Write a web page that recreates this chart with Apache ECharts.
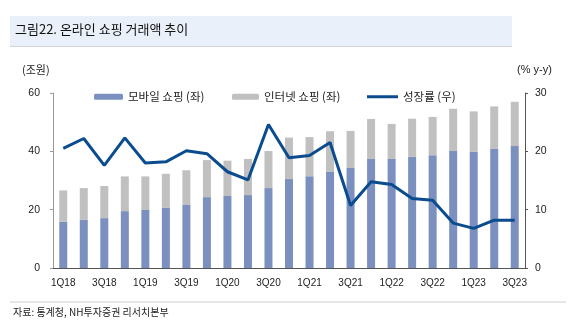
<!DOCTYPE html>
<html><head><meta charset="utf-8">
<script src="https://cdn.jsdelivr.net/npm/echarts@6/dist/echarts.min.js"></script>
<style>html,body{margin:0;padding:0;background:#fff}#c{width:577px;height:334px}</style>
</head><body><div id="c"></div>
<script>
const categories = ['1Q18','2Q18','3Q18','4Q18','1Q19','2Q19','3Q19','4Q19','1Q20','2Q20','3Q20','4Q20','1Q21','2Q21','3Q21','4Q21','1Q22','2Q22','3Q22','4Q22','1Q23','2Q23','3Q23'];
const mobile = [15.8,16.5,17.1,19.5,19.9,20.6,21.6,24.3,24.7,25.0,27.4,30.5,31.5,33.1,34.3,37.4,37.4,38.1,38.7,40.1,39.8,40.8,41.8];
const total = [26.6,27.4,28.1,31.4,31.4,32.3,33.5,37.0,36.8,37.4,40.1,44.7,44.9,46.9,47.0,51.1,49.4,51.2,51.8,54.6,53.7,55.4,57.0];
const internet = total.map((t,i)=>+(t-mobile[i]).toFixed(1));
const growth = [20.5,22.2,17.6,22.3,18.0,18.2,20.1,19.6,16.5,15.1,24.6,18.9,19.3,21.5,10.7,14.8,14.3,11.9,11.6,7.7,6.8,8.2,8.2];
const leftTicks = [0,20,40,60];
const rightTicks = [0,10,20,30];

const KR = '"Noto Sans CJK KR", "Liberation Sans", sans-serif';
const NUM = '"Liberation Sans", Arial, sans-serif';
const chart = echarts.init(document.getElementById('c'), null, {renderer:'canvas'});
const legendText = {fontFamily: KR, fontSize: 11.5, color: '#222'};
chart.setOption({
  animation: false,
  backgroundColor: '#fff',
  graphic: [
    {type:'rect', shape:{x:10,y:16,width:502,height:30}, style:{fill:'#e9f0f9'}, z:0},
    {type:'rect', shape:{x:10,y:46,width:502,height:1}, style:{fill:'#d4d4d4'}, z:0},
    {type:'text', left:15, top:23, style:{text:'그림22. 온라인 쇼핑 거래액 추이', font:'13px "Noto Sans CJK KR"', fill:'#111'}},
    {type:'text', left:22, top:64, style:{text:'(조원)', font:'11px "Noto Sans CJK KR"', fill:'#222'}},
    {type:'text', left:517, top:64, style:{text:'(% y-y)', font:'11px "Liberation Sans"', fill:'#222'}},
    {type:'rect', shape:{x:10,y:301,width:556,height:2}, style:{fill:'#e6e6e6'}, z:0},
    {type:'text', left:13, top:307, style:{text:'자료: 통계청, NH투자증권 리서치본부', font:'10px "Noto Sans CJK KR"', fill:'#222'}}
  ],
  legend: [
    {data:['모바일 쇼핑 (좌)'], left:89, top:86, itemWidth:29, itemHeight:6, itemGap:4, textStyle:legendText},
    {data:['인터넷 쇼핑 (좌)'], left:227, top:86, itemWidth:27, itemHeight:6, textStyle:legendText},
    {data:[{name:'성장률 (우)', icon:'rect'}], left:362, top:86, itemWidth:31, itemHeight:3, textStyle:legendText}
  ],
  grid: {left:53, right:52, top:93, bottom:66},
  xAxis: {
    type:'category', data:categories, boundaryGap:true,
    axisLine:{lineStyle:{color:'#555', width:1}},
    axisTick:{inside:true, length:3, interval:1, lineStyle:{color:'#555'}},
    axisLabel:{interval:1, fontFamily:NUM, fontSize:10, color:'#222', margin:10}
  },
  yAxis: [
    {type:'value', min:0, max:60, interval:20,
     axisLine:{show:true, lineStyle:{color:'#999'}},
     axisTick:{show:true, length:3, lineStyle:{color:'#999'}},
     splitLine:{show:false},
     axisLabel:{fontFamily:NUM, fontSize:10.5, color:'#222', margin:13}},
    {type:'value', min:0, max:30, interval:10, position:'right',
     axisLine:{show:true, lineStyle:{color:'#555'}},
     axisTick:{show:true, length:3, lineStyle:{color:'#555'}},
     splitLine:{show:false},
     axisLabel:{fontFamily:NUM, fontSize:10.5, color:'#222', margin:10}}
  ],
  series: [
    {name:'모바일 쇼핑 (좌)', type:'bar', stack:'s', data:mobile, barWidth:8, itemStyle:{color:'#7b90be'}},
    {name:'인터넷 쇼핑 (좌)', type:'bar', stack:'s', data:internet, barWidth:8, itemStyle:{color:'#c0c0c0'}},
    {name:'성장률 (우)', type:'line', yAxisIndex:1, data:growth, symbol:'none', lineStyle:{color:'#0b4c8f', width:3}, itemStyle:{color:'#0b4c8f'}, z:5}
  ]
});
</script></body></html>
